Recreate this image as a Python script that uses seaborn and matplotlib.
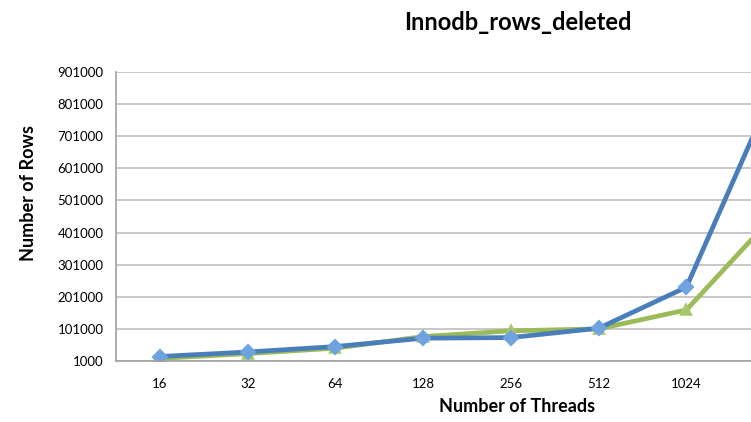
import numpy as np
import pandas as pd
import matplotlib
matplotlib.use("Agg")
import matplotlib.pyplot as plt
import matplotlib.colors as mcolors
import seaborn as sns

# data (the 2048 point sits past the cropped right edge)
threads = ["16", "32", "64", "128", "256", "512", "1024", "2048"]
rows_blue = [15000, 29000, 46000, 72000, 74000, 103000, 231000, 850000]
rows_green = [9000, 24000, 41000, 77000, 95000, 101000, 160000, 455000]
y_ticks = [1000, 101000, 201000, 301000, 401000, 501000, 601000, 701000, 801000, 901000]

df = pd.DataFrame({
    "threads": threads * 2,
    "rows": rows_green + rows_blue,
    "series": ["green"] * len(threads) + ["blue"] * len(threads),
})

sns.set_style("white")
plt.rcParams["font.family"] = ["Lato", "DejaVu Sans"]
plt.rcParams["text.color"] = "black"
plt.rcParams["xtick.labelcolor"] = "black"
plt.rcParams["ytick.labelcolor"] = "black"

fig = plt.figure(figsize=(7.51, 4.22), dpi=100)
# axes runs off the right side of the figure, like the cropped screenshot
ax = fig.add_axes([116 / 751, 1 - 361 / 422, 702 / 751, 289 / 422])

line_cols = {"green": "#9BBB59", "blue": "#4A7EBB"}
face_cols = {"green": "#A9C76A", "blue": "#6FA3E0"}
sns.pointplot(data=df, x="threads", y="rows", hue="series", order=threads,
              hue_order=["green", "blue"], palette=[line_cols["green"], line_cols["blue"]],
              markers=["^", "D"], linestyles=["-", "-"], ax=ax,
              linewidth=3.4, markersize=6, legend=False)

# lighter marker faces like the excel style
for ln in ax.lines:
    for key, col in line_cols.items():
        if mcolors.same_color(ln.get_color(), col):
            ln.set_markerfacecolor(face_cols[key])
            ln.set_markeredgecolor(face_cols[key])

ax.set_xlim(-0.5, len(threads) - 0.5)
ax.set_ylim(1000, 901000)
ax.set_yticks(y_ticks)
ax.set_yticklabels([str(v) for v in y_ticks], fontsize=9.5)
ax.yaxis.grid(True, color="#BDBDBD", linewidth=1.2)
ax.set_axisbelow(True)
ax.tick_params(axis="y", length=6, color="#A0A0A0", pad=3)

# last category label is off the cropped edge in the reference
ax.set_xticks(range(len(threads)))
ax.set_xticklabels(threads[:-1] + [""], fontsize=9.5)
ax.set_xticks(np.arange(-0.5, len(threads), 1), minor=True)
ax.tick_params(axis="x", which="major", length=0, pad=12)
ax.tick_params(axis="x", which="minor", length=5, color="#A0A0A0", direction="out")

for side in ["top", "right"]:
    ax.spines[side].set_visible(False)
for side in ["left", "bottom"]:
    ax.spines[side].set_color("#A0A0A0")
    ax.spines[side].set_linewidth(1.2)

ax.set_xlabel("")
ax.set_ylabel("")
fig.text(518 / 751, 1 - 22 / 422, "Innodb_rows_deleted", ha="center", va="center",
         fontsize=17, fontweight="bold")
fig.text(517 / 751, 1 - 407 / 422, "Number of Threads", ha="center", va="center",
         fontsize=13, fontweight="bold")
fig.text(29 / 751, 1 - 193 / 422, "Number of Rows", ha="center", va="center",
         rotation=90, fontsize=13, fontweight="bold")

fig.savefig("out.png", dpi=100)
